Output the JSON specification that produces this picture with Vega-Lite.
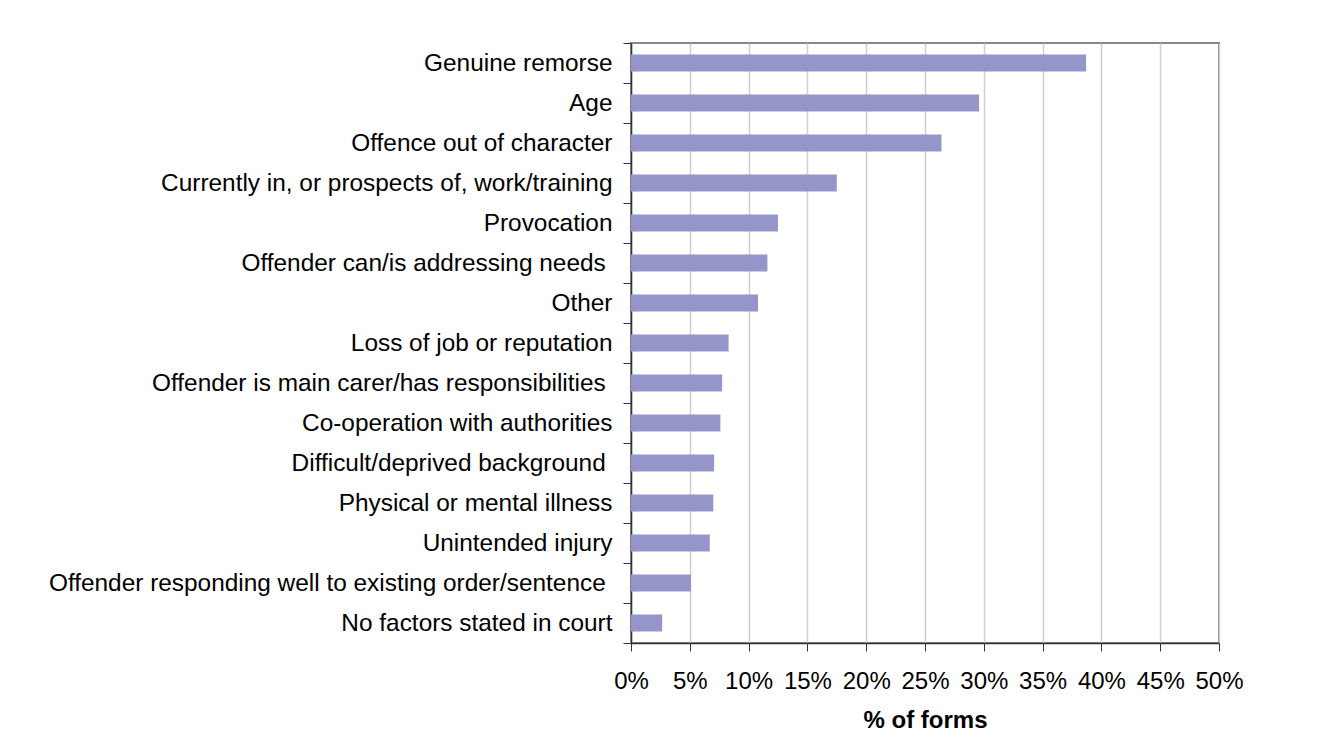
{
  "$schema": "https://vega.github.io/schema/vega-lite/v6.json",
  "width": 588,
  "height": 600,
  "autosize": {"type": "none"},
  "padding": {"left": 631, "top": 43, "right": 122, "bottom": 104},
  "background": "white",
  "data": {
    "values": [
      {"factor": "Genuine remorse", "pct": 0.387},
      {"factor": "Age", "pct": 0.296},
      {"factor": "Offence out of character", "pct": 0.264},
      {"factor": "Currently in, or prospects of, work/training", "pct": 0.175},
      {"factor": "Provocation", "pct": 0.125},
      {"factor": "Offender can/is addressing needs\u00a0\u200b", "pct": 0.116},
      {"factor": "Other", "pct": 0.108},
      {"factor": "Loss of job or reputation", "pct": 0.083},
      {"factor": "Offender is main carer/has responsibilities\u00a0\u200b", "pct": 0.0775},
      {"factor": "Co-operation with authorities", "pct": 0.076},
      {"factor": "Difficult/deprived background\u00a0\u200b", "pct": 0.0707},
      {"factor": "Physical or mental illness", "pct": 0.07},
      {"factor": "Unintended injury", "pct": 0.067},
      {"factor": "Offender responding well to existing order/sentence\u00a0\u200b", "pct": 0.051},
      {"factor": "No factors stated in court", "pct": 0.0265}
    ]
  },
  "mark": {"type": "bar", "color": "#9595C9", "size": 17},
  "encoding": {
    "y": {
      "field": "factor",
      "type": "nominal",
      "sort": null,
      "scale": {"paddingInner": 0, "paddingOuter": 0},
      "axis": {
        "title": null,
        "tickBand": "extent",
        "tickSize": 8,
        "tickColor": "#333333",
        "domainColor": "#333333",
        "domainWidth": 1.5,
        "labelPadding": 11,
        "labelFontSize": 24.4,
        "labelFont": "Liberation Sans",
        "labelColor": "#000000",
        "labelLimit": 800,
        "grid": false
      }
    },
    "x": {
      "field": "pct",
      "type": "quantitative",
      "scale": {"domain": [0, 0.5], "nice": false},
      "axis": {
        "values": [0, 0.05, 0.1, 0.15, 0.2, 0.25, 0.3, 0.35, 0.4, 0.45, 0.5],
        "format": ".0%",
        "title": "% of forms",
        "titleFont": "Liberation Sans",
        "titleFontSize": 24,
        "titleFontWeight": "bold",
        "titleColor": "#000000",
        "titlePadding": 15,
        "labelFont": "Liberation Sans",
        "labelFontSize": 24,
        "labelColor": "#000000",
        "labelPadding": 18,
        "labelFlush": false,
        "labelOverlap": false,
        "tickSize": 8,
        "tickColor": "#333333",
        "domainColor": "#333333",
        "domainWidth": 1.5,
        "grid": true,
        "gridColor": "#cfcfcf",
        "gridWidth": 1.5
      }
    }
  },
  "config": {"view": {"stroke": "#888888", "strokeWidth": 2}}
}
